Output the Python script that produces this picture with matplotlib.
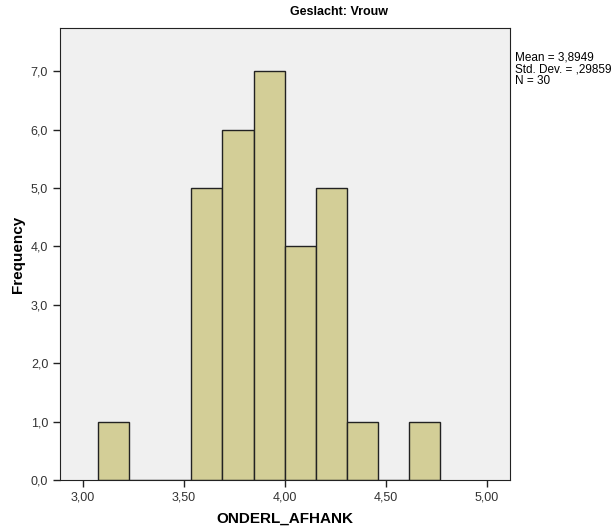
import matplotlib
matplotlib.use("Agg")
from matplotlib import pyplot as plt

plt.rcParams['font.family'] = ['Liberation Sans', 'DejaVu Sans']

# histogram bins (ONDERL_AFHANK, Geslacht: Vrouw)
bin_edges = [3.077, 3.231, 3.385, 3.538, 3.692, 3.846, 4.000,
             4.154, 4.308, 4.462, 4.615, 4.769]
counts = [1, 0, 0, 5, 6, 7, 4, 5, 1, 0, 1]

x_ticks = [3.0, 3.5, 4.0, 4.5, 5.0]
x_ticklabels = ["3,00", "3,50", "4,00", "4,50", "5,00"]
y_ticks = [0, 1, 2, 3, 4, 5, 6, 7]
y_ticklabels = ["0,0", "1,0", "2,0", "3,0", "4,0", "5,0", "6,0", "7,0"]

stats_text = "Mean = 3,8949\nStd. Dev. = ,29859\nN = 30"

fig = plt.figure(figsize=(6.15, 5.3), dpi=100)
ax = fig.add_axes([0.0976, 0.0943, 0.7317, 0.8528])
ax.set_facecolor('#f0f0f0')

widths = [bin_edges[i + 1] - bin_edges[i] for i in range(len(counts))]
ax.bar(bin_edges[:-1], counts, width=widths, align='edge',
       color='#d3ce97', edgecolor='#222222', linewidth=1.0)

ax.set_xlim(2.888, 5.115)
ax.set_ylim(0, 7.74)
ax.set_xticks(x_ticks, x_ticklabels)
ax.set_yticks(y_ticks, y_ticklabels)
ax.tick_params(axis='both', direction='out', length=5, width=1,
               labelsize=9, color='#222222', labelcolor='#333333')

for s in ax.spines.values():
    s.set_color('#222222')
    s.set_linewidth(0.8)

ax.set_xlabel("ONDERL_AFHANK", fontsize=11, fontweight='bold', labelpad=6)
ax.set_ylabel("Frequency", fontsize=11, fontweight='bold', labelpad=4)

fig.text(339 / 615, 1 - 12 / 530, "Geslacht: Vrouw", ha='center', va='center',
         fontsize=9, fontweight='bold')
fig.text(515 / 615, 1 - 51 / 530, stats_text, ha='left', va='top',
         fontsize=8.5, linespacing=1.0)

plt.savefig("out.png", dpi=100)
